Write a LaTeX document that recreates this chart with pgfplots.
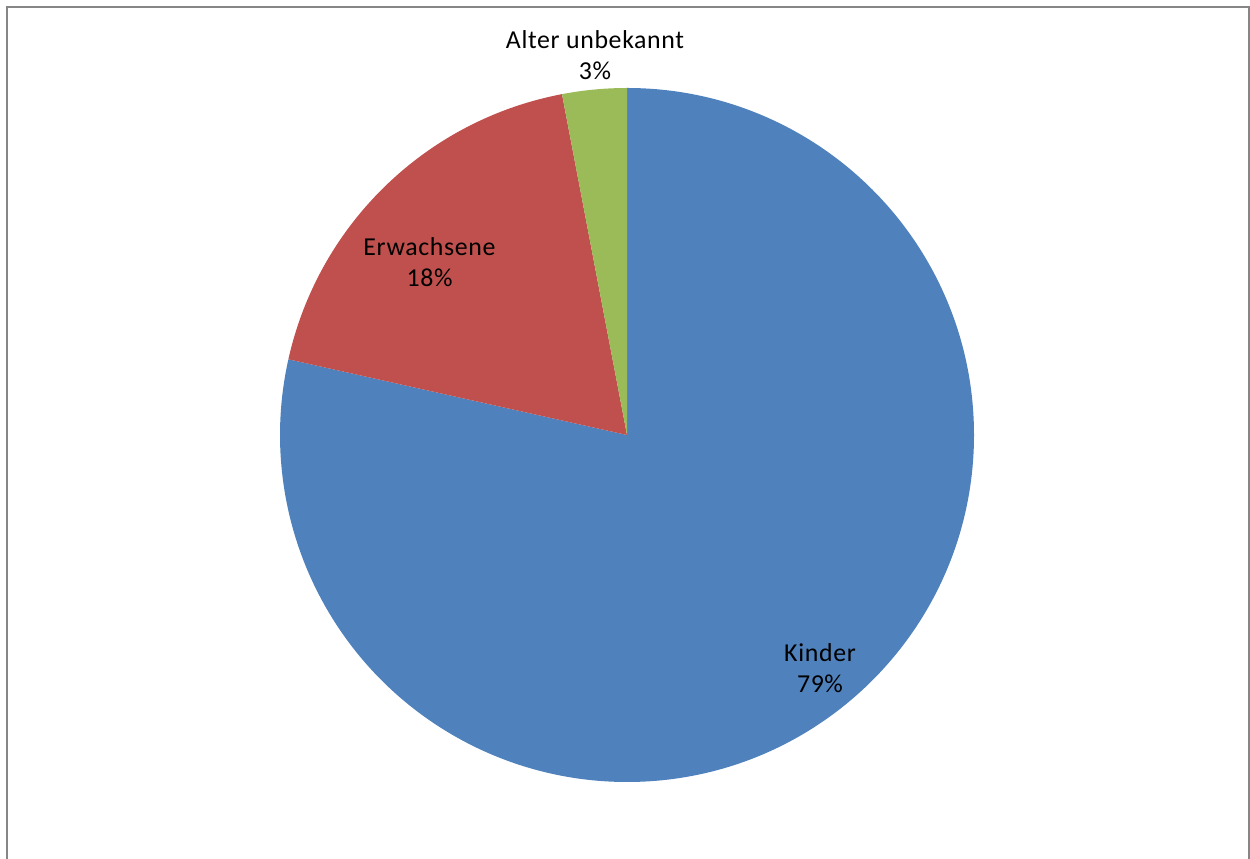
\documentclass[border=0pt]{standalone}
\usepackage{pgfplots}
\pgfplotsset{compat=1.18}
\usepackage{pgfplotstable}
\usepackage{fontspec}
\setmainfont{Carlito}[LetterSpace=2.5]
\definecolor{sblue}{HTML}{4F81BD}
\definecolor{sred}{HTML}{C0504D}
\definecolor{sgreen}{HTML}{9BBB59}
\definecolor{frame}{HTML}{868686}

\pgfplotstableread{
label value
Kinder 78.5
Erwachsene 18.5
Unbekannt 3.0
}\piedata

\begin{document}%
\begin{tikzpicture}
\pgfplotstablegetelem{0}{value}\of\piedata \let\va\pgfplotsretval
\pgfplotstablegetelem{1}{value}\of\piedata \let\vb\pgfplotsretval
\pgfplotstablegetelem{2}{value}\of\piedata \let\vc\pgfplotsretval
\pgfmathsetmacro{\aA}{90}
\pgfmathsetmacro{\aB}{90-3.6*\va}
\pgfmathsetmacro{\aC}{\aB-3.6*\vb}
\pgfmathsetmacro{\aD}{\aC-3.6*\vc}
\begin{axis}[
  x=6.94cm, y=6.94cm,
  xmin=-1.8069, xmax=1.7954, ymin=-1.2219, ymax=1.2536,
  hide axis, clip=false,
]
\fill[sblue] (axis cs:0,0) -- (axis cs:{cos(\aA)},{sin(\aA)}) arc[start angle=\aA, end angle=\aB, radius=6.94cm] -- cycle;
\fill[sred] (axis cs:0,0) -- (axis cs:{cos(\aB)},{sin(\aB)}) arc[start angle=\aB, end angle=\aC, radius=6.94cm] -- cycle;
\fill[sgreen] (axis cs:0,0) -- (axis cs:{cos(\aC)},{sin(\aC)}) arc[start angle=\aC, end angle=\aD, radius=6.94cm] -- cycle;
\draw[frame, line width=1.1pt] (axis cs:-1.7867,-1.4) -- (axis cs:-1.7867,1.2334) -- (axis cs:1.7925,1.2334) -- (axis cs:1.7925,-1.4);
\begin{scope}[every node/.style={align=center, font=\fontsize{14.7}{17.6}\selectfont, inner sep=0pt}]
\node at (axis cs:-0.0922,1.0951) {Alter unbekannt\\3\%};
\node at (axis cs:-0.5692,0.4986) {Erwachsene\\18\%};
\node at (axis cs:0.5562,-0.6715) {Kinder\\79\%};
\end{scope}
\end{axis}
\pgfresetboundingbox
\useasboundingbox (current axis.south west) rectangle (current axis.north east);
\end{tikzpicture}%
\end{document}
